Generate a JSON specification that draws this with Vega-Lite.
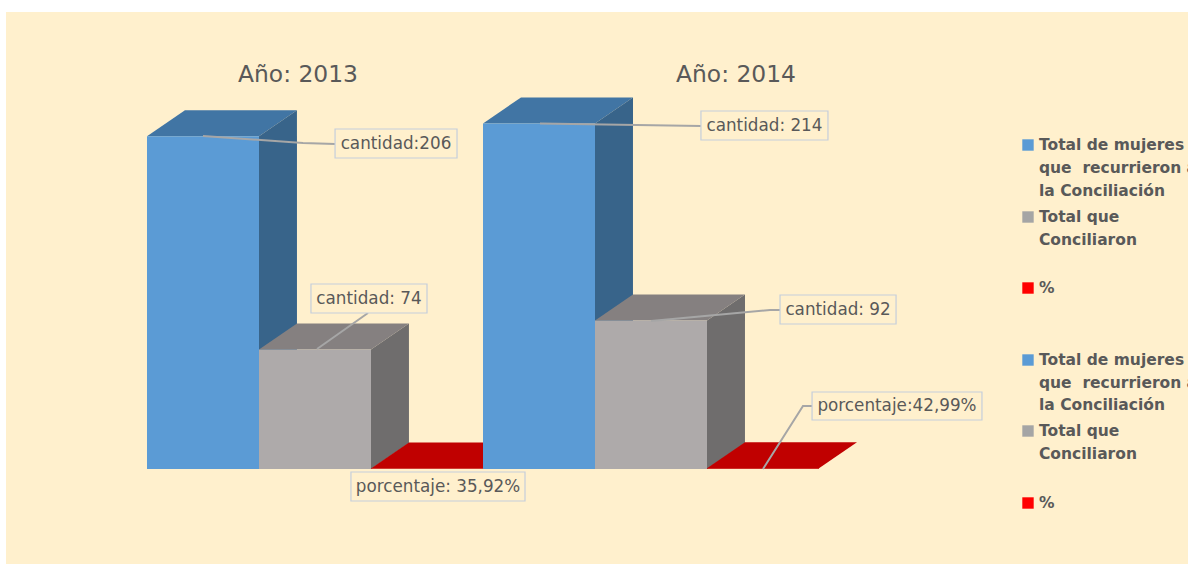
{
"$schema":"https://vega.github.io/schema/vega-lite/v6.json",
"width":1182,"height":552,
"autosize":"none",
"padding":{"left":6,"top":12,"right":0,"bottom":0},
"background":"#ffffff",
"view":{"fill":"#fff0cd","stroke":null},
"datasets":{
"caras":[
{"pieza":"b13t","cara":"azul arriba","x":0,"y":206,"y0":206},{"pieza":"b13t","cara":"azul arriba","x":0.339,"y":222.1,"y0":206},{"pieza":"b13t","cara":"azul arriba","x":1,"y":222.1,"y0":206},{"pieza":"b13t","cara":"azul arriba","x":1.339,"y":222.1,"y0":222.1},
{"pieza":"b13s","cara":"azul lado","x":1,"y":206,"y0":0},{"pieza":"b13s","cara":"azul lado","x":1.339,"y":222.1,"y0":16.1},
{"pieza":"g13s","cara":"gris lado","x":2,"y":74,"y0":0},{"pieza":"g13s","cara":"gris lado","x":2.339,"y":90.1,"y0":16.1},
{"pieza":"g13t","cara":"gris arriba","x":1,"y":74,"y0":74},{"pieza":"g13t","cara":"gris arriba","x":1.339,"y":90.1,"y0":74},{"pieza":"g13t","cara":"gris arriba","x":2,"y":90.1,"y0":74},{"pieza":"g13t","cara":"gris arriba","x":2.339,"y":90.1,"y0":90.1},
{"pieza":"r13t","cara":"rojo arriba","x":2,"y":0.36,"y0":0.36},{"pieza":"r13t","cara":"rojo arriba","x":2.339,"y":16.46,"y0":0.36},{"pieza":"r13t","cara":"rojo arriba","x":3,"y":16.46,"y0":0.36},{"pieza":"r13t","cara":"rojo arriba","x":3.339,"y":16.46,"y0":16.46},
{"pieza":"b14t","cara":"azul arriba","x":3,"y":214,"y0":214},{"pieza":"b14t","cara":"azul arriba","x":3.339,"y":230.1,"y0":214},{"pieza":"b14t","cara":"azul arriba","x":4,"y":230.1,"y0":214},{"pieza":"b14t","cara":"azul arriba","x":4.339,"y":230.1,"y0":230.1},
{"pieza":"b14s","cara":"azul lado","x":4,"y":214,"y0":0},{"pieza":"b14s","cara":"azul lado","x":4.339,"y":230.1,"y0":16.1},
{"pieza":"g14s","cara":"gris lado","x":5,"y":92,"y0":0},{"pieza":"g14s","cara":"gris lado","x":5.339,"y":108.1,"y0":16.1},
{"pieza":"g14t","cara":"gris arriba","x":4,"y":92,"y0":92},{"pieza":"g14t","cara":"gris arriba","x":4.339,"y":108.1,"y0":92},{"pieza":"g14t","cara":"gris arriba","x":5,"y":108.1,"y0":92},{"pieza":"g14t","cara":"gris arriba","x":5.339,"y":108.1,"y0":108.1},
{"pieza":"r14t","cara":"rojo arriba","x":5,"y":0.43,"y0":0.43},{"pieza":"r14t","cara":"rojo arriba","x":5.339,"y":16.53,"y0":0.43},{"pieza":"r14t","cara":"rojo arriba","x":6,"y":16.53,"y0":0.43},{"pieza":"r14t","cara":"rojo arriba","x":6.339,"y":16.53,"y0":16.53}
],
"barras":[
{"anio":2013,"serie":"Total de mujeres que recurrieron a la Conciliación","x":0,"x2":1,"y":206,"y0":0},
{"anio":2013,"serie":"Total que Conciliaron","x":1,"x2":2,"y":74,"y0":0},
{"anio":2013,"serie":"%","x":2,"x2":3,"y":0.36,"y0":0},
{"anio":2014,"serie":"Total de mujeres que recurrieron a la Conciliación","x":3,"x2":4,"y":214,"y0":0},
{"anio":2014,"serie":"Total que Conciliaron","x":4,"x2":5,"y":92,"y0":0},
{"anio":2014,"serie":"%","x":5,"x2":6,"y":0.43,"y0":0}
],
"guias":[
{"g":"a","x":0.5,"y":206.19},{"g":"a","x":1.393,"y":201.86},{"g":"a","x":1.679,"y":201.24},
{"g":"b","x":3.509,"y":213.9},{"g":"b","x":4.946,"y":212.38},
{"g":"c","x":1.518,"y":74.3},{"g":"c","x":1.973,"y":96.59},
{"g":"d","x":4.5,"y":91.6},{"g":"d","x":5.563,"y":98.45},{"g":"d","x":5.652,"y":98.45},
{"g":"e","x":5.5,"y":0},{"g":"e","x":5.857,"y":39.01},{"g":"e","x":5.938,"y":39.01}
],
"etiquetas":[
{"t":"cantidad:206","x":1.679,"x2":2.768,"y":210.53,"y0":192.57,"tx":2.223,"ty":201.24},
{"t":"cantidad: 214","x":4.946,"x2":6.08,"y":221.67,"y0":203.72,"tx":5.513,"ty":212.38},
{"t":"cantidad: 74","x":1.464,"x2":2.5,"y":114.55,"y0":96.59,"tx":1.982,"ty":105.26},
{"t":"porcentaje: 35,92%","x":1.821,"x2":3.375,"y":-1.86,"y0":-19.81,"tx":2.598,"ty":-11.15},
{"t":"cantidad: 92","x":5.652,"x2":6.688,"y":107.74,"y0":89.78,"tx":6.17,"ty":98.45},
{"t":"porcentaje:42,99%","x":5.938,"x2":7.455,"y":47.68,"y0":30.34,"tx":6.696,"ty":39.01}
],
"titulos":[
{"t":"Año: 2013","x":1.348,"y":243.96},
{"t":"Año: 2014","x":5.259,"y":243.96}
],
"leyenda":[
{"t":"Total de mujeres","x":7.964,"y":200.62},{"t":"que \u00a0recurrieron a","x":7.964,"y":186.38},{"t":"la Conciliación","x":7.964,"y":172.14},
{"t":"Total que","x":7.964,"y":156.04},{"t":"Conciliaron","x":7.964,"y":141.8},{"t":"%","x":7.964,"y":112.07},
{"t":"Total de mujeres","x":7.964,"y":67.49},{"t":"que \u00a0recurrieron a","x":7.964,"y":53.25},{"t":"la Conciliación","x":7.964,"y":39.63},
{"t":"Total que","x":7.964,"y":23.53},{"t":"Conciliaron","x":7.964,"y":9.29},{"t":"%","x":7.964,"y":-21.05}
],
"simbolos":[
{"serie":"Total de mujeres que recurrieron a la Conciliación","x":7.866,"y":200.62},
{"serie":"Total que Conciliaron","x":7.866,"y":156.04},
{"serie":"%","x":7.866,"y":112.07},
{"serie":"Total de mujeres que recurrieron a la Conciliación","x":7.866,"y":67.49},
{"serie":"Total que Conciliaron","x":7.866,"y":23.53},
{"serie":"%","x":7.866,"y":-21.05}
]
},
"encoding":{
"x":{"field":"x","type":"quantitative","axis":null,"scale":{"domain":[-1.2589,9.2946],"nice":false,"zero":false}},
"y":{"field":"y","type":"quantitative","axis":null,"scale":{"domain":[-58.82,282.97],"nice":false,"zero":false}}
},
"layer":[
{"data":{"name":"caras"},
"mark":{"type":"area","orient":"vertical","interpolate":"linear"},
"encoding":{
"y2":{"field":"y0"},
"detail":{"field":"pieza"},
"color":{"field":"cara","type":"nominal","legend":null,"scale":{"domain":["azul arriba","azul lado","gris arriba","gris lado","rojo arriba"],"range":["#4175a4","#38648a","#858080","#6f6d6d","#c00000"]}}
}},
{"data":{"name":"barras"},
"mark":{"type":"rect"},
"encoding":{
"x2":{"field":"x2"},
"y2":{"field":"y0"},
"color":{"field":"serie","type":"nominal","legend":null,"scale":{"domain":["Total de mujeres que recurrieron a la Conciliación","Total que Conciliaron","%"],"range":["#5b9bd5","#aeaaaa","#c00000"]}}
}},
{"data":{"name":"guias"},
"mark":{"type":"line","color":"#a6a6a6","strokeWidth":2},
"encoding":{"detail":{"field":"g"}}},
{"data":{"name":"etiquetas"},
"mark":{"type":"rect","fill":"#fff0cd","stroke":"#c5cedb","strokeWidth":1.2},
"encoding":{"x2":{"field":"x2"},"y2":{"field":"y0"}}},
{"data":{"name":"etiquetas"},
"mark":{"type":"text","font":"DejaVu Sans","fontSize":16.8,"color":"#595959","align":"center","baseline":"middle"},
"encoding":{
"x":{"field":"tx","type":"quantitative"},
"y":{"field":"ty","type":"quantitative"},
"text":{"field":"t"}}},
{"data":{"name":"titulos"},
"mark":{"type":"text","font":"DejaVu Sans","fontSize":23.4,"color":"#595959","align":"center","baseline":"middle"},
"encoding":{"text":{"field":"t"}}},
{"data":{"name":"leyenda"},
"mark":{"type":"text","font":"DejaVu Sans","fontWeight":"bold","fontSize":15.5,"color":"#595959","align":"left","baseline":"middle"},
"encoding":{"text":{"field":"t"}}},
{"data":{"name":"simbolos"},
"mark":{"type":"point","shape":"square","filled":true,"size":130,"opacity":1},
"encoding":{
"color":{"field":"serie","type":"nominal","legend":null,"scale":{"domain":["Total de mujeres que recurrieron a la Conciliación","Total que Conciliaron","%"],"range":["#5b9bd5","#a5a5a5","#ff0000"]}}
}}
],
"resolve":{"scale":{"color":"independent"}}
}
